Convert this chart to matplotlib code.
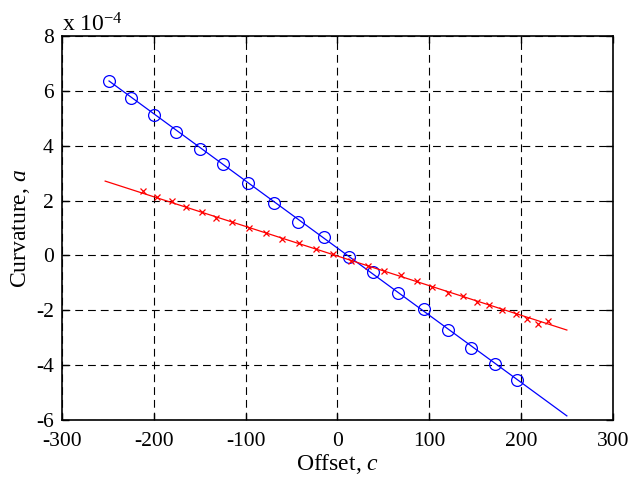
import matplotlib
matplotlib.use('Agg')
import matplotlib.pyplot as plt

# offsets and curvatures (curvature in units of 1e-4)
blue_c = [-248.8, -224.9, -199.8, -175.9, -149.7, -124.7, -97.5, -69.1, -43.0,
          -14.7, 12.5, 38.7, 65.9, 94.2, 120.3, 145.4, 171.5, 195.5]
blue_a = [6.36, 5.74, 5.12, 4.50, 3.88, 3.33, 2.64, 1.91, 1.22,
          0.67, -0.06, -0.60, -1.37, -1.95, -2.72, -3.38, -3.95, -4.54]

red_c = [-211.8, -196.5, -180.2, -165.0, -147.5, -132.3, -114.9, -96.4, -77.9,
         -60.4, -41.9, -23.4, -4.9, 14.7, 33.2, 50.6, 69.2, 86.6, 102.9, 120.3,
         136.7, 151.9, 165.0, 179.1, 194.4, 206.4, 218.3, 229.2]
red_a = [2.35, 2.13, 1.98, 1.76, 1.58, 1.36, 1.22, 1.00, 0.82,
         0.60, 0.45, 0.23, 0.05, -0.20, -0.39, -0.57, -0.72, -0.93, -1.15, -1.37,
         -1.48, -1.70, -1.81, -1.99, -2.14, -2.32, -2.50, -2.39]

# fitted lines (end points)
blue_fit_c = [-248.8, 250]
blue_fit_a = [6.36, -5.85]
red_fit_c = [-253, 250]
red_fit_a = [2.71, -2.72]

plt.rcParams['font.family'] = 'Liberation Serif'
plt.rcParams['mathtext.fontset'] = 'custom'
plt.rcParams['mathtext.it'] = 'Liberation Serif:italic'
plt.rcParams['mathtext.rm'] = 'Liberation Serif'
plt.rcParams['axes.unicode_minus'] = False

fig = plt.figure(figsize=(6.33, 4.8), dpi=100)
ax = fig.add_axes([0.098, 0.125, 0.870, 0.800])

ax.plot(blue_fit_c, blue_fit_a, color='#0000ff', linewidth=0.9)
ax.plot(blue_c, blue_a, linestyle='none', marker='o', markersize=8.5,
        markerfacecolor='none', markeredgecolor='#0000ff', markeredgewidth=0.9)
ax.plot(red_fit_c, red_fit_a, color='#ff0000', linewidth=0.9)
ax.plot(red_c, red_a, linestyle='none', marker='x', markersize=5,
        markeredgecolor='#ff0000', markeredgewidth=0.9)

ax.set_xlim(-300, 300)
ax.set_ylim(-6, 8)
ax.set_xticks(range(-300, 301, 100))
ax.set_yticks(range(-6, 9, 2))

ax.grid(True, color='black', linestyle=(0, (7, 4.5)), linewidth=0.8)
ax.tick_params(direction='in', top=True, right=True, labelsize=15.5,
               length=5, width=1)
ax.tick_params(axis='x', pad=8.5)
ax.tick_params(axis='y', pad=6)
for sp in ax.spines.values():
    sp.set_linewidth(1.2)

ax.set_xlabel('Offset, $c$', fontsize=17, labelpad=0.5)
ax.set_ylabel('Curvature, $a$', fontsize=17, labelpad=3)
ax.text(0.0, 1.0, 'x 10$^{-4}$', transform=ax.transAxes, fontsize=17,
        ha='left', va='bottom')

fig.savefig('out.png', dpi=100)
